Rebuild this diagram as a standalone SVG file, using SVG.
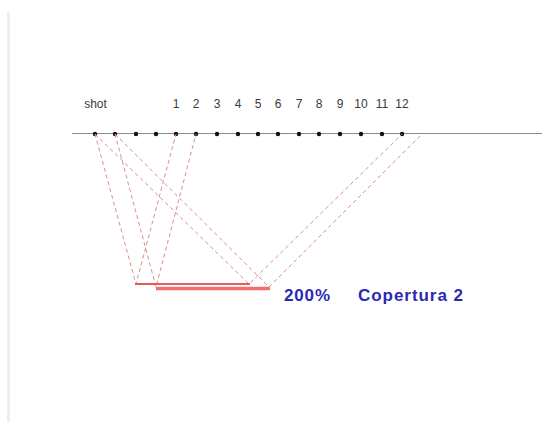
<svg xmlns="http://www.w3.org/2000/svg" width="542" height="432" viewBox="0 0 542 432">
<style>
.lbl{font-family:"Liberation Sans",Arial,sans-serif;font-size:12px;fill:#3a3a3a;text-anchor:middle}
.ray{stroke:#d9908c;stroke-width:1;stroke-dasharray:4 3;fill:none}
.dot{fill:#111}
.blue{font-family:"Liberation Sans",Arial,sans-serif;font-size:17px;font-weight:bold;fill:#2a2ab4}
</style>
<rect width="542" height="432" fill="#fff"/>
<line x1="8.5" y1="12" x2="8.5" y2="422" stroke="#eeeeee" stroke-width="3"/>
<g id="surface">
<line x1="72" y1="133.5" x2="542" y2="133.5" stroke="#8a8a8a" stroke-width="1"/>
</g>
<g id="stations">
<circle class="dot" cx="95" cy="134" r="2.2"/>
<circle class="dot" cx="115" cy="134" r="2.2"/>
<circle class="dot" cx="136" cy="134" r="2.2"/>
<circle class="dot" cx="156" cy="134" r="2.2"/>
<circle class="dot" cx="176" cy="134" r="2.2"/>
<circle class="dot" cx="196" cy="134" r="2.2"/>
<circle class="dot" cx="217" cy="134" r="2.2"/>
<circle class="dot" cx="238" cy="134" r="2.2"/>
<circle class="dot" cx="258" cy="134" r="2.2"/>
<circle class="dot" cx="278" cy="134" r="2.2"/>
<circle class="dot" cx="299" cy="134" r="2.2"/>
<circle class="dot" cx="319" cy="134" r="2.2"/>
<circle class="dot" cx="340" cy="134" r="2.2"/>
<circle class="dot" cx="361" cy="134" r="2.2"/>
<circle class="dot" cx="382" cy="134" r="2.2"/>
<circle class="dot" cx="402" cy="134" r="2.2"/>
</g>
<g id="labels">
<text class="lbl" x="95.5" y="108">shot</text>
<text class="lbl" x="176" y="108">1</text>
<text class="lbl" x="196" y="108">2</text>
<text class="lbl" x="217" y="108">3</text>
<text class="lbl" x="238" y="108">4</text>
<text class="lbl" x="258" y="108">5</text>
<text class="lbl" x="278" y="108">6</text>
<text class="lbl" x="299" y="108">7</text>
<text class="lbl" x="319" y="108">8</text>
<text class="lbl" x="340" y="108">9</text>
<text class="lbl" x="361" y="108">10</text>
<text class="lbl" x="382" y="108">11</text>
<text class="lbl" x="402" y="108">12</text>
</g>
<g id="connectors">
<path class="ray" d="M95 134 L136 284 L176 134"/>
<path class="ray" d="M115 134 L156 287 L196 134"/>
<path class="ray" d="M95 134 L249 284 L402 134"/>
<path class="ray" d="M115 134 L269 287 L422 134"/>
</g>
<g id="coverage">
<line x1="135" y1="284" x2="250" y2="284" stroke="#e85a5a" stroke-width="2"/>
<line x1="156" y1="288.5" x2="270" y2="288.5" stroke="#f07070" stroke-width="3.5"/>
<text class="blue" x="284" y="301" textLength="46">200%</text>
<text class="blue" x="358" y="301" textLength="105">Copertura 2</text>
</g>
</svg>
